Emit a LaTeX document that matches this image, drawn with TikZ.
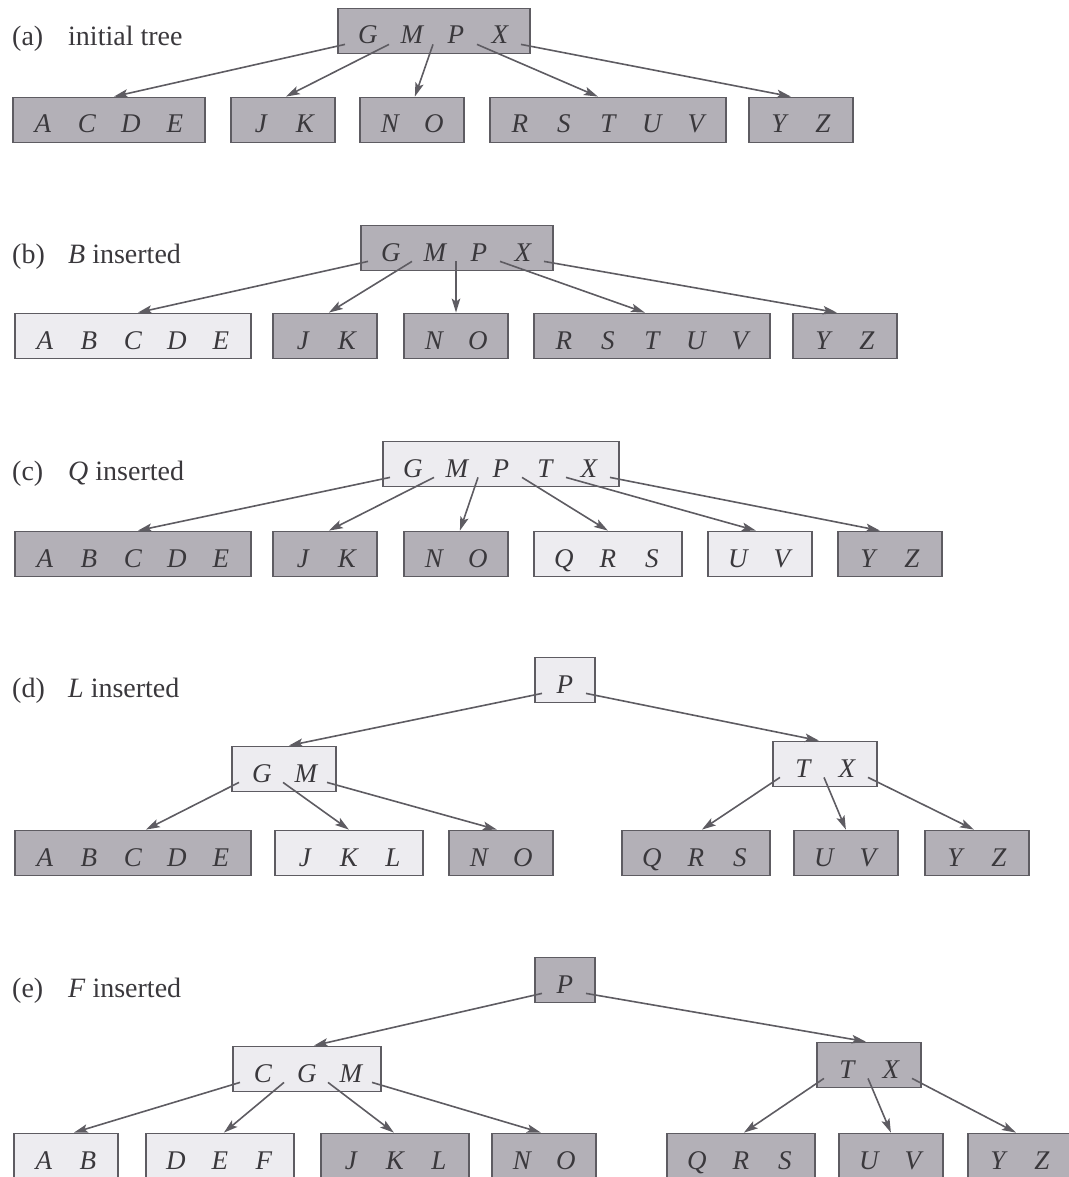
\documentclass[tikz,border=0pt]{standalone}
\usepackage{fontspec}
\setmainfont{Liberation Serif}
\usetikzlibrary{arrows.meta,calc}
\definecolor{dk}{HTML}{B3B0B7}
\definecolor{lt}{HTML}{EDECF0}
\definecolor{ln}{HTML}{5E5C62}
\definecolor{tx}{HTML}{3A383C}
\newcommand{\K}[1]{\makebox[44pt]{\itshape #1}}
\tikzset{
  bnode/.style={draw=ln, line width=1.8pt, text=tx, font=\fontsize{27}{30}\selectfont,
    inner xsep=8pt, inner ysep=0pt, minimum height=45pt, text height=26pt, text depth=0pt, anchor=west},
  dkbox/.style={bnode, fill=dk},
  ltbox/.style={bnode, fill=lt},
  ptr/.style={draw=ln, line width=1.6pt, -{Stealth[length=14pt,width=8.5pt,inset=3pt]}},
  lbl/.style={anchor=base west, inner sep=0pt, text=tx, font=\fontsize{28}{32}\selectfont},
}
\begin{document}
\begin{tikzpicture}[x=1pt,y=-1pt]
\useasboundingbox (0,0) rectangle (1068,1177);
% (a)
\node[lbl] (la) at (12,46) {\makebox[56pt][l]{(a)}initial tree};
\node[dkbox] (ra) at (337,31) {\K{G}\K{M}\K{P}\K{X}};
\node[dkbox] (a1) at (12,120) {\K{A}\K{C}\K{D}\K{E}};
\node[dkbox] (a2) at (230,120) {\K{J}\K{K}};
\node[dkbox] (a3) at (359,120) {\K{N}\K{O}};
\node[dkbox] (a4) at (489,120) {\K{R}\K{S}\K{T}\K{U}\K{V}};
\node[dkbox] (a5) at (748,120) {\K{Y}\K{Z}};
% (b)
\node[lbl] (lb) at (12,263) {\makebox[56pt][l]{(b)}\textit{B} inserted};
\node[dkbox] (rb) at (360,248) {\K{G}\K{M}\K{P}\K{X}};
\node[ltbox] (b1) at (14,336) {\K{A}\K{B}\K{C}\K{D}\K{E}};
\node[dkbox] (b2) at (272,336) {\K{J}\K{K}};
\node[dkbox] (b3) at (403,336) {\K{N}\K{O}};
\node[dkbox] (b4) at (533,336) {\K{R}\K{S}\K{T}\K{U}\K{V}};
\node[dkbox] (b5) at (792,336) {\K{Y}\K{Z}};
% (c)
\node[lbl] (lc) at (12,480) {\makebox[56pt][l]{(c)}\textit{Q} inserted};
\node[ltbox] (rc) at (382,464) {\K{G}\K{M}\K{P}\K{T}\K{X}};
\node[dkbox] (c1) at (14,554) {\K{A}\K{B}\K{C}\K{D}\K{E}};
\node[dkbox] (c2) at (272,554) {\K{J}\K{K}};
\node[dkbox] (c3) at (403,554) {\K{N}\K{O}};
\node[ltbox] (c4) at (533,554) {\K{Q}\K{R}\K{S}};
\node[ltbox] (c5) at (707,554) {\K{U}\K{V}};
\node[dkbox] (c6) at (837,554) {\K{Y}\K{Z}};
% (d)
\node[lbl] (ld) at (12,697) {\makebox[56pt][l]{(d)}\textit{L} inserted};
\node[ltbox] (rd) at (534,680) {\K{P}};
\node[ltbox] (dl) at (231,769) {\K{G}\K{M}};
\node[ltbox] (dr) at (772,764) {\K{T}\K{X}};
\node[dkbox] (d1) at (14,853) {\K{A}\K{B}\K{C}\K{D}\K{E}};
\node[ltbox] (d2) at (274,853) {\K{J}\K{K}\K{L}};
\node[dkbox] (d3) at (448,853) {\K{N}\K{O}};
\node[dkbox] (d4) at (621,853) {\K{Q}\K{R}\K{S}};
\node[dkbox] (d5) at (793,853) {\K{U}\K{V}};
\node[dkbox] (d6) at (924,853) {\K{Y}\K{Z}};
% (e)
\node[lbl] (le) at (12,997) {\makebox[56pt][l]{(e)}\textit{F} inserted};
\node[dkbox] (re) at (534,980) {\K{P}};
\node[ltbox] (el) at (232,1069) {\K{C}\K{G}\K{M}};
\node[dkbox] (er) at (816,1065) {\K{T}\K{X}};
\node[ltbox] (e1) at (13,1156) {\K{A}\K{B}};
\node[ltbox] (e2) at (145,1156) {\K{D}\K{E}\K{F}};
\node[dkbox] (e3) at (320,1156) {\K{J}\K{K}\K{L}};
\node[dkbox] (e4) at (491,1156) {\K{N}\K{O}};
\node[dkbox] (e5) at (666,1156) {\K{Q}\K{R}\K{S}};
\node[dkbox] (e6) at (838,1156) {\K{U}\K{V}};
\node[dkbox] (e7) at (967,1156) {\K{Y}\K{Z}};
% pointer start coordinates
\foreach \n/\k in {ra/4,rb/4,rc/5,rd/1,dl/2,dr/2,re/1,el/3,er/2}{
  \foreach \i in {0,...,\k}{
    \coordinate (\n-\i) at ($(\n.south west)+(8+44*\i,-10)$);
  }
}
% (a) pointers
\draw[ptr] (ra-0) -- ($(a1.north)+(5,0)$);
\draw[ptr] (ra-1) -- ($(a2.north)+(3,0)$);
\draw[ptr] (ra-2) -- ($(a3.north)+(3,0)$);
\draw[ptr] (ra-3) -- ($(a4.north)+(-10,0)$);
\draw[ptr] (ra-4) -- ($(a5.north)+(-10,0)$);
% (b) pointers
\draw[ptr] (rb-0) -- ($(b1.north)+(5,0)$);
\draw[ptr] (rb-1) -- ($(b2.north)+(4,0)$);
\draw[ptr] (rb-2) -- (rb-2 |- b3.north);
\draw[ptr] (rb-3) -- ($(b4.north)+(-7,0)$);
\draw[ptr] (rb-4) -- ($(b5.north)+(-8,0)$);
% (c) pointers
\draw[ptr] (rc-0) -- ($(c1.north)+(5,0)$);
\draw[ptr] (rc-1) -- ($(c2.north)+(4,0)$);
\draw[ptr] (rc-2) -- ($(c3.north)+(4,0)$);
\draw[ptr] (rc-3) -- (c4.north);
\draw[ptr] (rc-4) -- ($(c5.north)+(-4,0)$);
\draw[ptr] (rc-5) -- ($(c6.north)+(-10,0)$);
% (d) pointers
\draw[ptr] (rd-0) -- ($(dl.north)+(5,0)$);
\draw[ptr] (rd-1) -- ($(dr.north)+(-6,0)$);
\draw[ptr] (dl-0) -- ($(d1.north)+(13,0)$);
\draw[ptr] (dl-1) -- (d2.north);
\draw[ptr] (dl-2) -- ($(d3.north)+(-4,0)$);
\draw[ptr] (dr-0) -- ($(d4.north)+(6,0)$);
\draw[ptr] (dr-1) -- (d5.north);
\draw[ptr] (dr-2) -- ($(d6.north)+(-3,0)$);
% (e) pointers
\draw[ptr] (re-0) -- ($(el.north)+(7,0)$);
\draw[ptr] (re-1) -- ($(er.north)+(-3,0)$);
\draw[ptr] (el-0) -- ($(e1.north)+(8,0)$);
\draw[ptr] (el-1) -- ($(e2.north)+(4,0)$);
\draw[ptr] (el-2) -- ($(e3.north)+(-1,0)$);
\draw[ptr] (el-3) -- ($(e4.north)+(-3,0)$);
\draw[ptr] (er-0) -- ($(e5.north)+(3,0)$);
\draw[ptr] (er-1) -- (e6.north);
\draw[ptr] (er-2) -- ($(e7.north)+(-4,0)$);
\end{tikzpicture}
\end{document}
